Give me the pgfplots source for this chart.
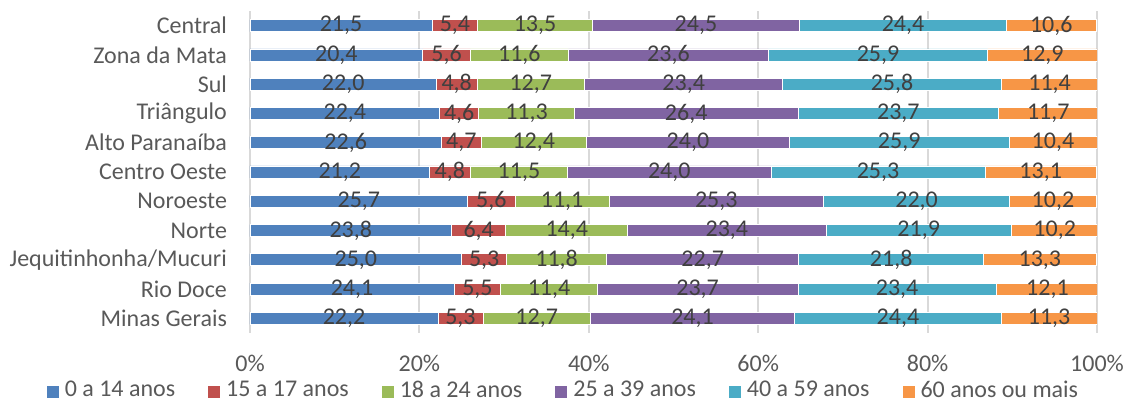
\documentclass[border=0pt]{standalone}
\usepackage{pgfplots}
\pgfplotsset{compat=1.18}
\usepackage{pgfplotstable}
\usepackage{fontspec}
\setmainfont{Carlito}

\definecolor{c1}{HTML}{4F81BD}
\definecolor{c2}{HTML}{C0504D}
\definecolor{c3}{HTML}{9BBB59}
\definecolor{c4}{HTML}{8064A2}
\definecolor{c5}{HTML}{4BACC6}
\definecolor{c6}{HTML}{F79646}
\definecolor{lbl}{HTML}{404040}
\definecolor{tck}{HTML}{595959}
\definecolor{grd}{HTML}{D9D9D9}

% y: 10 = top row (Central), 0 = bottom row (Minas Gerais)
\pgfplotstableread{
y  a    b   c    d    e    f
10 21.5 5.4 13.5 24.5 24.4 10.6
9  20.4 5.6 11.6 23.6 25.9 12.9
8  22.0 4.8 12.7 23.4 25.8 11.4
7  22.4 4.6 11.3 26.4 23.7 11.7
6  22.6 4.7 12.4 24.0 25.9 10.4
5  21.2 4.8 11.5 24.0 25.3 13.1
4  25.7 5.6 11.1 25.3 22.0 10.2
3  23.8 6.4 14.4 23.4 21.9 10.2
2  25.0 5.3 11.8 22.7 21.8 13.3
1  24.1 5.5 11.4 23.7 23.4 12.1
0  22.2 5.3 12.7 24.1 24.4 11.3
}\data

\newcommand\fs{\fontsize{12}{14}\selectfont}

\pgfplotsset{
  frame/.style={scale only axis, width=423.5pt, height=161pt,
    xmin=0, xmax=100, ymin=-0.5, ymax=10.5},
  % labels sit in the middle of each segment, on top of all bars
  midlabel/.style={only marks, mark=*, mark size=0pt, draw=none,
    point meta=explicit, nodes near coords,
    every node near coord/.append style={anchor=center, text=lbl, font=\fs}},
}

\begin{document}
\begin{tikzpicture}[font=\fs]
\begin{axis}[
    name=ax, frame,
    xbar stacked,
    bar width=6pt,
    axis line style={draw=none},
    tick style={draw=none},
    xmajorgrids,
    grid style={grd, line width=1pt},
    xtick={0,20,...,100},
    xticklabels={0\%,20\%,40\%,60\%,80\%,100\%},
    ytick={0,...,10},
    yticklabels={Minas Gerais,Rio Doce,Jequitinhonha/Mucuri,Norte,Noroeste,
      Centro Oeste,Alto Paranaíba,Triângulo,Sul,Zona da Mata,Central},
    xticklabel style={text=tck, yshift=-10pt, inner sep=1pt},
    yticklabel style={text=tck, xshift=-8pt},
    legend style={at={(0.3695,-0.178)}, anchor=center, legend columns=6,
      draw=none, fill=none, text=tck, font=\fs,
      inner sep=0pt, nodes={inner sep=0.5pt},
      /tikz/every odd column/.append style={column sep=2.5pt},
      /tikz/every even column/.append style={column sep=16pt}},
    legend image code/.code={
      \path[#1, draw=none] (0pt,-4pt) rectangle (6pt,2pt);},
]
\addplot[fill=c1, draw=white] table[x=a, y=y] {\data};
\addplot[fill=c2, draw=white] table[x=b, y=y] {\data};
\addplot[fill=c3, draw=white] table[x=c, y=y] {\data};
\addplot[fill=c4, draw=white] table[x=d, y=y] {\data};
\addplot[fill=c5, draw=white] table[x=e, y=y] {\data};
\addplot[fill=c6, draw=white] table[x=f, y=y] {\data};
\legend{0 a 14 anos,15 a 17 anos,18 a 24 anos,25 a 39 anos,40 a 59 anos,60 anos ou mais}
\end{axis}
\begin{axis}[
    frame, at={(ax.south west)}, anchor=south west, hide axis,
    /pgf/number format/.cd, fixed, fixed zerofill, precision=1, use comma,
      assume math mode=true,
]
\addplot[midlabel] table[x expr={\thisrow{a}/2}, y=y, meta=a] {\data};
\addplot[midlabel] table[x expr={\thisrow{a}+\thisrow{b}/2}, y=y, meta=b] {\data};
\addplot[midlabel] table[x expr={\thisrow{a}+\thisrow{b}+\thisrow{c}/2}, y=y, meta=c] {\data};
\addplot[midlabel] table[x expr={\thisrow{a}+\thisrow{b}+\thisrow{c}+\thisrow{d}/2}, y=y, meta=d] {\data};
\addplot[midlabel] table[x expr={\thisrow{a}+\thisrow{b}+\thisrow{c}+\thisrow{d}+\thisrow{e}/2}, y=y, meta=e] {\data};
\addplot[midlabel] table[x expr={\thisrow{a}+\thisrow{b}+\thisrow{c}+\thisrow{d}+\thisrow{e}+\thisrow{f}/2}, y=y, meta=f] {\data};
\end{axis}
\pgfresetboundingbox
\path (ax.south west) ++(-125pt,-33.5pt) rectangle ++(562.5pt,200pt);
\end{tikzpicture}
\end{document}
